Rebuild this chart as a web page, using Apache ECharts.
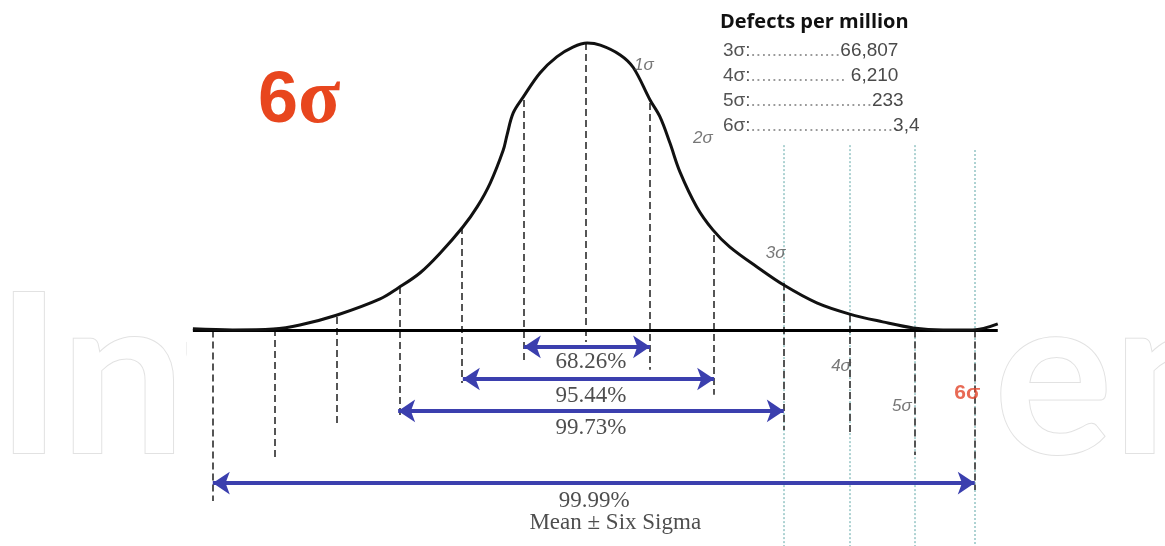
<!DOCTYPE html>
<html>
<head>
<meta charset="utf-8">
<script src="https://cdn.jsdelivr.net/npm/echarts@6/dist/echarts.min.js"></script>
<style>
html, body { margin: 0; padding: 0; background: #fff; }
#main { width: 1165px; height: 546px; }
</style>
</head>
<body>
<div id="main"></div>
<script>
// bell curve: x in sigma units, height with peak = 100
const curveX = [-6.32, -5.68, -5.03, -4.6, -4.0, -3.31, -3.02, -2.67, -2.35, -1.98, -1.75, -1.54, -1.33, -1.27, -1.17, -1.01, -0.74, -0.47, -0.21, 0.02,
  0.23, 0.55, 0.76, 1.03, 1.19, 1.35, 1.51, 1.78, 2.04, 2.31, 2.75, 3.18, 3.71, 4.24, 4.77, 5.26, 5.74, 6.22, 6.62];
const curveY = [0.6, 0.2, 0.5, 1.9, 5.4, 11.0, 14.8, 20.0, 26.8, 36.0, 43.0, 51.3, 62.8, 68.0, 75.7, 81.2, 89.6, 95.2, 98.6, 100,
  99.3, 95.9, 91.5, 80.2, 74.3, 65.2, 55.2, 43.0, 35.0, 29.1, 22.1, 15.8, 9.6, 5.7, 3.0, 0.9, 0.2, 0.2, 2.3];
const baseline = [-6.32, 6.62];

// dashed sigma guides
const sigmaX = [-6, -5, -4, -3, -2, -1, 0, 1.03, 2.06, 3.18, 4.24, 5.29, 6.25];
const guideTop = [0, 0.5, 4.7, 15.1, 36, 80.2, 100, 79.2, 33.2, 16.5, 5.4, 0, 0];
const guideBottom = [-59.3, -44.4, -33.6, -29.4, -18.3, -10.3, -4, -13.7, -22.4, -34.6, -36.4, -43.3, -55.5];
const tealX = [3.18, 4.24, 5.29, 6.25];
const tealTop = [64.5, 64.5, 64.5, 62.8];

// coverage arrows
const rangeNames = ['68.26%', '95.44%', '99.73%', '99.99%'];
const rangeFrom = [-1, -1.98, -3.02, -6];
const rangeTo = [1.03, 2.06, 3.18, 6.25];
const rangeY = [-5.7, -16.9, -28, -53.1];
const rangeLabelX = [0.08, 0.08, 0.08, 0.13];
const rangeLabelY = [-11.1, -22.8, -33.9, -59.3];

const sigmaNames = ['1σ', '2σ', '3σ', '4σ', '5σ'];
const sigmaLabelX = [0.93, 1.88, 3.05, 4.10, 5.08];
const sigmaLabelY = [92.4, 67.0, 27.0, -12.4, -26.3];

const defectLevels = ['3σ', '4σ', '5σ', '6σ'];
const defectValues = ['66,807', ' 6,210', '233', '3,4'];
const defectDots = [17, 18, 23, 27];

const chart = echarts.init(document.getElementById('main'));
const blue = '#3b3fae';
const serif = '"Liberation Serif", "Times New Roman", serif';
const sans = '"Liberation Sans", Arial, sans-serif';

const tableTexts = defectLevels.map(function (lv, i) {
  return {
    type: 'text', z: 50, x: 723, y: 51 + i * 25,
    style: {
      text: '{k|' + lv + ':}{d|' + '.'.repeat(defectDots[i]) + '}{v|' + defectValues[i] + '}',
      verticalAlign: 'middle',
      rich: {
        k: { fontSize: 19, fill: '#555', fontFamily: sans },
        d: { fontSize: 19, fill: '#9a9a9a', fontFamily: sans },
        v: { fontSize: 19, fill: '#4a4a4a', fontFamily: sans }
      }
    }
  };
});

const watermark = { font: 'bold 222px Lato, sans-serif', fill: '#fff', stroke: '#e2e2e2', lineWidth: 2, verticalAlign: 'middle' };

const option = {
  animation: false,
  backgroundColor: '#fff',
  title: {
    text: '{a|6}{b|σ}',
    left: 253, top: 58,
    textStyle: {
      rich: {
        a: { fontSize: 72, fontWeight: 'bold', color: '#e8461e', fontFamily: sans },
        b: { fontSize: 78, fontWeight: 'bold', color: '#e8461e', fontFamily: serif }
      }
    }
  },
  grid: { left: 119.5, right: 112.5, top: 0, bottom: 0 },
  xAxis: { type: 'value', min: -7.5, max: 7.5, show: false },
  yAxis: { type: 'value', min: -75, max: 115, show: false },
  graphic: [
    { type: 'text', z: 0, x: -4, y: 381, style: Object.assign({ text: 'Int' }, watermark) },
    { type: 'text', z: 0, x: 994, y: 381, style: Object.assign({ text: 'en' }, watermark) },
    { type: 'rect', z: 1, shape: { x: 187, y: 0, width: 810, height: 546 }, style: { fill: '#fff' } },
    { type: 'text', z: 50, x: 720, y: 22, style: { text: 'Defects per million', font: 'bold 20px "Open Sans", sans-serif', fill: '#111', verticalAlign: 'middle' } }
  ].concat(tableTexts),
  series: [
    {
      type: 'lines', coordinateSystem: 'cartesian2d', z: 3,
      lineStyle: { color: '#93c4c4', width: 1.5, type: [2, 2], opacity: 1 },
      data: tealX.map((x, i) => ({ coords: [[x, tealTop[i]], [x, -75]] }))
    },
    {
      type: 'lines', coordinateSystem: 'cartesian2d', z: 4,
      lineStyle: { color: '#555', width: 2, type: [7, 4], opacity: 1 },
      data: sigmaX.map((x, i) => ({ coords: [[x, guideTop[i]], [x, guideBottom[i]]] }))
    },
    {
      type: 'line', z: 5, symbol: 'none', silent: true,
      lineStyle: { color: '#000', width: 3 },
      data: baseline.map(x => [x, 0])
    },
    {
      type: 'line', z: 6, symbol: 'none', smooth: 0.35, silent: true,
      lineStyle: { color: '#111', width: 3 },
      data: curveX.map((x, i) => [x, curveY[i]])
    },
    {
      type: 'lines', coordinateSystem: 'cartesian2d', z: 7,
      symbol: ['arrow', 'arrow'], symbolSize: 17,
      lineStyle: { color: blue, width: 4, opacity: 1 },
      data: rangeNames.map((n, i) => ({ coords: [[rangeFrom[i], rangeY[i]], [rangeTo[i], rangeY[i]]] }))
    },
    {
      type: 'scatter', z: 8, symbolSize: 0, silent: true,
      label: { show: true, position: 'inside', formatter: p => p.name, fontFamily: serif, fontSize: 23, color: '#222' },
      data: rangeNames.map((n, i) => ({ name: n, value: [rangeLabelX[i], rangeLabelY[i]] }))
        .concat([{ name: 'Mean ± Six Sigma', value: [0.47, -67] }])
    },
    {
      type: 'scatter', z: 8, symbolSize: 0, silent: true,
      label: { show: true, position: 'inside', formatter: p => p.name, fontFamily: sans, fontStyle: 'italic', fontSize: 17, color: '#555' },
      data: sigmaNames.map((n, i) => ({ name: n, value: [sigmaLabelX[i], sigmaLabelY[i]] }))
    },
    {
      type: 'scatter', z: 8, symbolSize: 0, silent: true,
      label: { show: true, position: 'inside', formatter: p => p.name, fontFamily: sans, fontWeight: 'bold', fontSize: 21, color: '#e2452a' },
      data: [{ name: '6σ', value: [6.13, -21.7] }]
    }
  ]
};
chart.setOption(option);
window.addEventListener('resize', function () {
  chart.resize();
});
</script>
</body>
</html>
